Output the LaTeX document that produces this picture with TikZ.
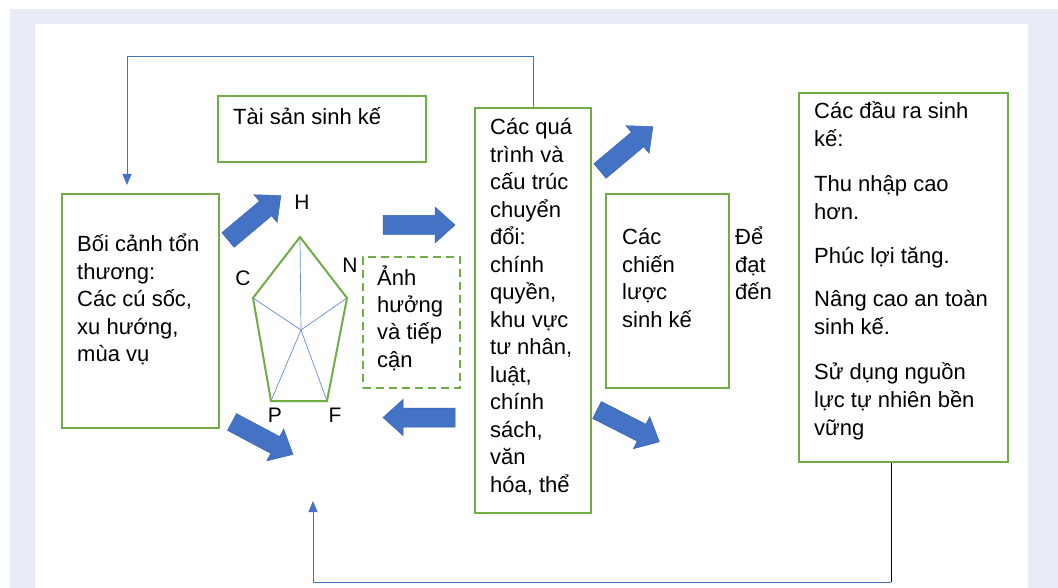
\documentclass[tikz,border=0pt]{standalone}
\usepackage{fontspec}
\setmainfont{Liberation Sans}
\usetikzlibrary{arrows.meta}
\definecolor{grn}{HTML}{70AD47}
\definecolor{blu}{HTML}{4472C4}
\definecolor{bluedge}{HTML}{3A62AC}
\definecolor{bgc}{HTML}{E8ECF6}
\tikzset{
  box/.style={draw=grn, line width=2pt, inner sep=0pt, anchor=north west},
  dbox/.style={box, dash pattern=on 8pt off 5pt},
  txt/.style={inner sep=0pt, anchor=base west, font=\fontsize{22}{27.5}\selectfont},
  lbl/.style={inner sep=0pt, font=\fontsize{21}{24}\selectfont},
  link/.style={draw=blu, line width=1pt},
  tip/.style={-{Triangle[width=9pt,length=11pt]}},
  blk/.style={fill=blu, draw=bluedge, line width=0.5pt},
  pent/.style={draw=grn, line width=2pt, line join=miter},
  spoke/.style={draw=blu!80, line width=0.7pt},
}
\newcommand\blkarrow[4]{%
  \filldraw[blk, shift={(#1,#2)}, rotate=#3]
    (0,-9.5) -- (#4-20,-9.5) -- (#4-20,-18) -- (#4,0) -- (#4-20,18) -- (#4-20,9.5) -- (0,9.5) -- cycle;}
\newcommand\tb[1]{\begin{tabular}[t]{@{}l@{}}#1\end{tabular}}
\begin{document}
\begin{tikzpicture}[x=1pt,y=-1pt]
  % background
  \useasboundingbox (0,0) rectangle (1058,588);
  \fill[white] (0,0) rectangle (1058,588);
  \fill[bgc] (10,9) rectangle (1058,588);
  \fill[white] (35,24) rectangle (1028,588);

  % boxes
  \node[box, minimum width=157pt, minimum height=234pt] (ctx) at (61,193) {};
  \node[box, minimum width=208pt, minimum height=66pt] (assets) at (217,95) {};
  \node[box, minimum width=116pt, minimum height=405pt] (proc) at (474,107) {};
  \node[box, minimum width=123pt, minimum height=194pt] (strat) at (605,193) {};
  \node[box, minimum width=209pt, minimum height=369pt] (outc) at (798,92) {};
  \node[dbox, minimum width=97pt, minimum height=131pt] (infl) at (362,256) {};

  % texts
  \node[txt] (ctxt) at (77,252) {\tb{Bối cảnh tổn\\thương:\\Các cú sốc,\\xu hướng,\\mùa vụ}};
  \node[txt] (assetst) at (233,125) {Tài sản sinh kế};
  \node[txt] (proct) at (490,135) {\tb{Các quá\\trình và\\cấu trúc\\chuyển\\đổi:\\chính\\quyền,\\khu vực\\tư nhân,\\luật,\\chính\\sách,\\văn\\hóa, thể}};
  \node[txt] (stratt) at (622,245) {\tb{Các\\chiến\\lược\\sinh kế}};
  \node[txt] (reach) at (735,245) {\tb{Để\\đạt\\đến}};
  \node[txt] (inflt) at (377,285) {\tb{Ảnh\\hưởng\\và tiếp\\cận}};
  \node[txt, font=\fontsize{22}{28}\selectfont] (outct) at (814,119) {\tb{Các đầu ra sinh\\kế:\\[16.5pt]Thu nhập cao\\hơn.\\[16.5pt]Phúc lợi tăng.\\[15pt]Nâng cao an toàn\\sinh kế.\\[16.5pt]Sử dụng nguồn\\lực tự nhiên bền\\vững}};

  % pentagon
  \coordinate (vH) at (300,237);
  \coordinate (vN) at (347,298);
  \coordinate (vF) at (327,401);
  \coordinate (vP) at (271,401);
  \coordinate (vC) at (253,298);
  \coordinate (vO) at (301,330);
  \foreach \v in {vH,vN,vF,vP,vC} \draw[spoke] (vO) -- (\v);
  \draw[pent] (vH) -- (vN) -- (vF) -- (vP) -- (vC) -- cycle;
  \node[lbl] (lH) at (302,202) {H};
  \node[lbl] (lC) at (243,278) {C};
  \node[lbl] (lN) at (350,265) {N};
  \node[lbl] (lP) at (275,415) {P};
  \node[lbl] (lF) at (335,415) {F};

  % block arrows
  \blkarrow{228}{240}{40}{69}
  \blkarrow{383}{225}{0}{72}
  \blkarrow{455}{417.5}{180}{72}
  \blkarrow{232}{422}{-28}{69}
  \blkarrow{600}{171}{40}{69}
  \blkarrow{597}{410}{-27}{70}

  % feedback loops
  \coordinate (ctxin) at (127,185);
  \draw[link, tip] (proc.north) -- ++(0,-50) -| (ctxin);
  \coordinate (bc) at (891,582);
  \coordinate (bl) at (313,582);
  \coordinate (upin) at (313,501);
  \coordinate (ob) at (outc.south -| bc);
  \draw[black, line width=1pt] (ob) -- (bc);
  \draw[link, tip] (bc) -- (bl) -- (upin);
\end{tikzpicture}
\end{document}
